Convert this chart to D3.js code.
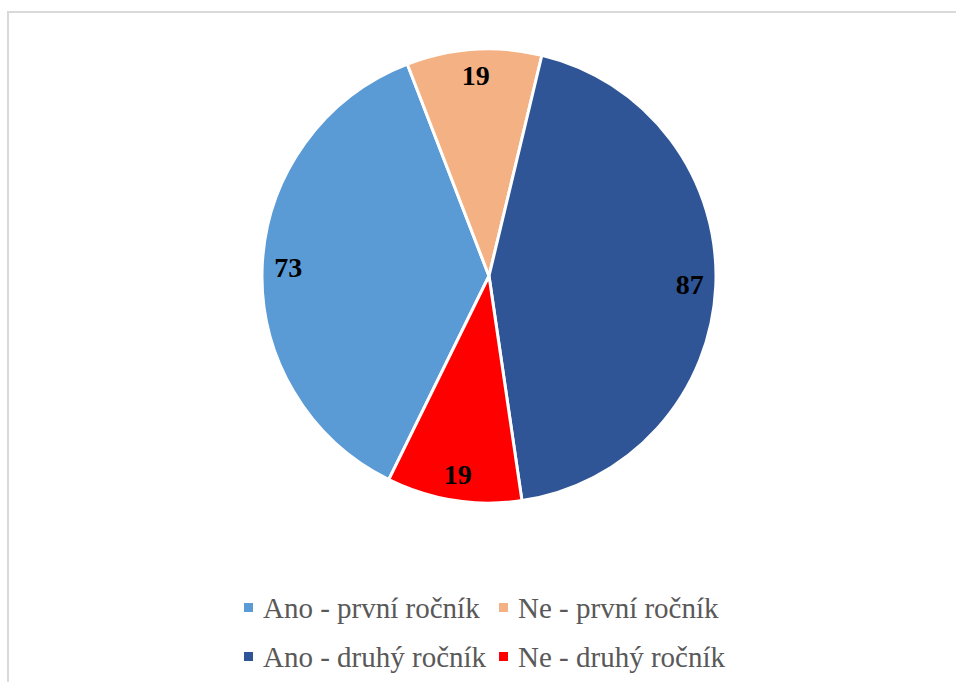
<!DOCTYPE html>
<html>
<head>
<meta charset="utf-8">
<script src="https://cdn.jsdelivr.net/npm/d3@7"></script>
<style>
  html, body { margin: 0; padding: 0; background: #fff; }
  svg { display: block; }
</style>
</head>
<body>
<svg id="chart" width="956" height="682"></svg>
<script>
// Survey answers by class year
const categories = ["Ano - první ročník", "Ne - první ročník", "Ano - druhý ročník", "Ne - druhý ročník"];
const values = [73, 19, 87, 19];
const colors = ["#5B9BD5", "#F4B183", "#2F5597", "#FF0000"];

const svg = d3.select("#chart");
const W = 956, H = 682;

// chart frame
svg.append("rect")
  .attr("x", 8).attr("y", 12)
  .attr("width", W).attr("height", H)
  .attr("fill", "#fff")
  .attr("stroke", "#d9d9d9").attr("stroke-width", 2);

const cx = 489, cy = 276, R = 227;
const startDeg = 206.2;
const start = startDeg * Math.PI / 180;

const pie = d3.pie().sort(null).value(d => d)
  .startAngle(start).endAngle(start + 2 * Math.PI);
const arcs = pie(values);

const arc = d3.arc().innerRadius(0).outerRadius(R);
const labelArc = d3.arc().innerRadius(201).outerRadius(201);

const g = svg.append("g").attr("transform", `translate(${cx},${cy})`);

g.selectAll("path.slice")
  .data(arcs)
  .join("path")
  .attr("class", "slice")
  .attr("d", arc)
  .attr("fill", (d, i) => colors[i])
  .attr("stroke", "#fff")
  .attr("stroke-width", 3)
  .attr("stroke-linejoin", "round");

g.selectAll("text.val")
  .data(arcs)
  .join("text")
  .attr("class", "val")
  .attr("transform", d => `translate(${labelArc.centroid(d)})`)
  .attr("text-anchor", "middle")
  .attr("dominant-baseline", "central")
  .attr("font-family", "'Liberation Serif', 'Times New Roman', serif")
  .attr("font-weight", "bold")
  .attr("font-size", 28)
  .attr("fill", "#000")
  .text(d => d.data);

// legend: two rows, two aligned columns
const colX = [244, 499];
const rowY = [608, 657];
const legend = svg.append("g");
categories.forEach((name, i) => {
  const x = colX[i % 2], y = rowY[Math.floor(i / 2)];
  const item = legend.append("g").attr("transform", `translate(${x},${y})`);
  item.append("rect")
    .attr("x", 0).attr("y", -5)
    .attr("width", 9).attr("height", 9)
    .attr("fill", colors[i]);
  item.append("text")
    .attr("x", 19).attr("y", 0)
    .attr("dominant-baseline", "central")
    .attr("font-family", "'Liberation Serif', 'Times New Roman', serif")
    .attr("font-size", 29)
    .attr("fill", "#595959")
    .text(name);
});
</script>
</body>
</html>
